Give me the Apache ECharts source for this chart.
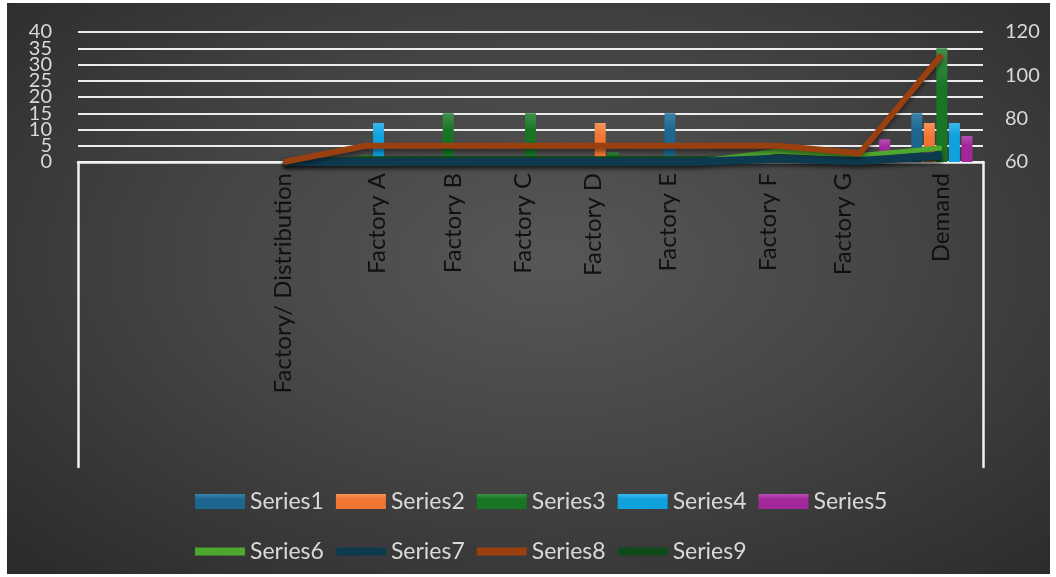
<!DOCTYPE html>
<html>
<head>
<meta charset="utf-8">
<script src="https://cdn.jsdelivr.net/npm/echarts@6/dist/echarts.min.js"></script>
<style>
  body { margin: 0; background: #fff; }
  #bg {
    position: absolute; left: 7px; top: 3px; width: 1043px; height: 571px;
    background: radial-gradient(ellipse at 52% 45%, #575757 0%, #454545 45%, #2a2a2a 100%);
  }
  #main { position: absolute; left: 0; top: 0; width: 1056px; height: 577px; }
</style>
</head>
<body>
<div id="bg"></div>
<div id="main"></div>
<script>
// first two categories are empty in the original sheet
var categories = ['', '', 'Factory/ Distribution', 'Factory A', 'Factory B', 'Factory C',
  'Factory D', 'Factory E', 'Factory F', 'Factory G', 'Demand'];

// bar series (left axis)
var series1 = [null, null, null, null, null, null, null, 15, null, null, 15];
var series2 = [null, null, null, null, null, null, 12, null, null, null, 12];
var series3 = [null, null, null, 2, 15, 15, 3, null, null, null, 35];
var series4 = [null, null, null, 12, null, null, null, null, null, null, 12];
var series5 = [null, null, null, null, null, null, null, null, null, 7, 8];

// line series (right axis)
var series6 = [null, null, 60, 60, 60, 60, 60, 60, 65, 63, 66.5];
var series7 = [null, null, 60, 60, 60, 60, 60, 60, 61.5, 60.5, 63];
var series8 = [null, null, 60, 67.5, 67.5, 67.5, 67.5, 67.5, 67.5, 64, 109.5];
var series9 = [null, null, 60, 61.5, 61.5, 61.5, 61.5, 61.5, 61.5, 60.5, 62];

var leftTicks = { min: 0, max: 40, interval: 5 };
var rightTicks = { min: 60, max: 120, interval: 20 };

// Excel placed the rotated labels a bit off the category centre (px, + = right)
var labelShift = [0, 0, 0, 11, 5, -7, -20, -27, -9, -16, -1];

var chart = echarts.init(document.getElementById('main'));

var font = 'Lato, "Open Sans", sans-serif';
var labelColor = '#d9d9d9';

// rich styles to nudge each category label sideways
var labelRich = {};
labelShift.forEach(function (dx, i) {
  labelRich['c' + i] = {
    color: '#101010', fontSize: 24, fontFamily: font,
    padding: dx > 0 ? [2 * dx, 0, 0, 0] : [0, 0, -2 * dx, 0]
  };
});

function barColor(c, light) {
  return new echarts.graphic.LinearGradient(0, 0, 0, 1, [
    { offset: 0, color: light },
    { offset: 0.35, color: c },
    { offset: 1, color: c }
  ]);
}

function bar(name, data, c, light) {
  return {
    name: name,
    type: 'bar',
    data: data,
    barWidth: 11,
    barGap: '14%',
    itemStyle: { color: barColor(c, light) },
    z: 2
  };
}

function line(name, data, c, w, z) {
  return {
    name: name,
    type: 'line',
    yAxisIndex: 1,
    data: data,
    symbol: 'none',
    clip: false,
    color: c,
    lineStyle: {
      color: c, width: w,
      shadowColor: 'rgba(0,0,0,0.45)', shadowBlur: 4, shadowOffsetY: 3
    },
    z: z
  };
}

var legendText = { color: labelColor, fontSize: 23, fontFamily: font };
var frameLine = { show: true, lineStyle: { color: '#f2f2f2', width: 2.5 } };

chart.setOption({
  backgroundColor: 'transparent',
  animation: false,
  textStyle: { fontFamily: font },
  grid: [
    { left: 78, right: 73, top: 32, height: 130 },
    // empty frame under the axis (left, top and right edges only)
    { left: 78, right: 73, top: 162, height: 305 }
  ],
  legend: [
    {
      data: ['Series1', 'Series2', 'Series3', 'Series4', 'Series5'],
      left: 190, top: 485,
      icon: 'rect', itemWidth: 50, itemHeight: 15, itemGap: 12,
      textStyle: legendText
    },
    {
      data: ['Series6', 'Series7', 'Series8', 'Series9'],
      left: 190, top: 535,
      icon: 'rect', itemWidth: 50, itemHeight: 8, itemGap: 12,
      textStyle: legendText
    }
  ],
  xAxis: [
    {
      type: 'category',
      data: categories,
      boundaryGap: true,
      axisLine: { lineStyle: { color: '#f2f2f2', width: 2.5 } },
      axisTick: { show: false },
      axisLabel: {
        rotate: 90, margin: 11, interval: 0,
        color: '#101010', fontSize: 24, fontFamily: font,
        formatter: function (v, i) { return v ? '{c' + i + '|' + v + '}' : ''; },
        rich: labelRich
      }
    },
    { gridIndex: 1, type: 'value', show: false }
  ],
  yAxis: [
    {
      // gridlines every 5, labels here only for 5/15/25/35 (the rest come from axis 4)
      type: 'value',
      min: leftTicks.min, max: leftTicks.max, interval: leftTicks.interval,
      axisLine: { show: false },
      axisTick: { show: false },
      axisLabel: {
        color: labelColor, fontSize: 20, fontFamily: font, margin: 26,
        showMinLabel: false, showMaxLabel: false, hideOverlap: false,
        formatter: function (v) { return v % 10 === 5 ? String(v) : ''; }
      },
      splitLine: { lineStyle: { color: '#ececec', width: 2 } }
    },
    {
      type: 'value',
      position: 'right',
      min: rightTicks.min, max: rightTicks.max, interval: rightTicks.interval,
      axisLine: { show: false },
      axisTick: { show: false },
      axisLabel: { color: labelColor, fontSize: 20, fontFamily: font, margin: 22 },
      splitLine: { show: false }
    },
    {
      gridIndex: 1, type: 'value', position: 'left', min: 0, max: 1,
      axisLine: frameLine,
      axisTick: { show: false }, axisLabel: { show: false }, splitLine: { show: false }
    },
    {
      gridIndex: 1, type: 'value', position: 'right', min: 0, max: 1,
      axisLine: frameLine,
      axisTick: { show: false }, axisLabel: { show: false }, splitLine: { show: false }
    },
    {
      type: 'value',
      position: 'left',
      min: leftTicks.min, max: leftTicks.max, interval: leftTicks.interval * 2,
      axisLine: { show: false },
      axisTick: { show: false },
      axisLabel: {
        color: labelColor, fontSize: 20, fontFamily: font, margin: 26,
        showMinLabel: true, showMaxLabel: true
      },
      splitLine: { show: false }
    }
  ],
  series: [
    bar('Series1', series1, '#1c6690', '#3a82aa'),
    bar('Series2', series2, '#f07532', '#f5935a'),
    bar('Series3', series3, '#177524', '#3f8f49'),
    bar('Series4', series4, '#0fa0de', '#3cb6ea'),
    bar('Series5', series5, '#a2279b', '#b84fb2'),
    line('Series6', series6, '#4ea72e', 5, 4),
    line('Series7', series7, '#0e3a50', 8, 5),
    line('Series8', series8, '#9a4010', 6, 6),
    line('Series9', series9, '#0f4a1a', 5, 3)
  ]
});
</script>
</body>
</html>
